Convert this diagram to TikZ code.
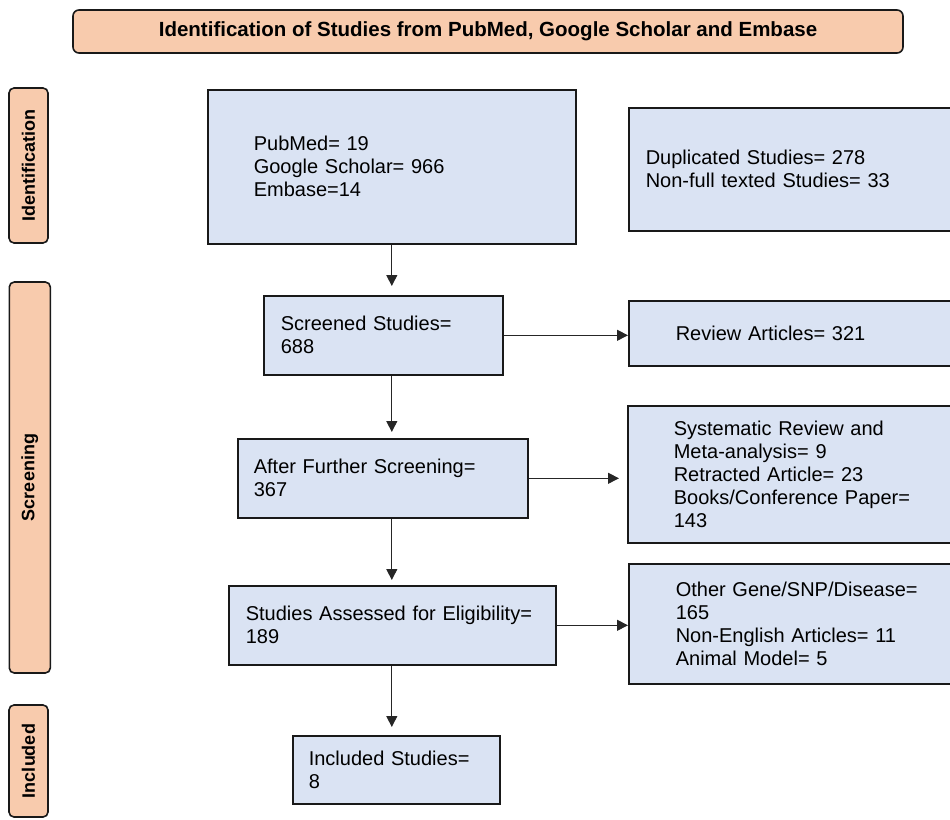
\documentclass[tikz,border=0pt]{standalone}
\usepackage{fontspec}
\setmainfont{Liberation Sans}
\usetikzlibrary{arrows.meta, positioning}
\definecolor{peach}{HTML}{F8CBAD}
\definecolor{paleblue}{HTML}{DAE3F3}

\begin{document}
\begin{tikzpicture}[x=1pt, y=-1pt,
    phase/.style={draw=black!90, line width=1.6pt, fill=peach, rounded corners=5pt,
      inner sep=0pt, font=\fontsize{18}{21}\selectfont\bfseries},
    stage/.style={draw=black!90, line width=1.6pt, fill=paleblue, anchor=north west,
      align=left, inner ysep=0pt, font=\fontsize{20}{23}\selectfont},
    flow/.style={-{Triangle[length=11pt,width=11pt]}, line width=0.9pt, black!85}]
    % Page frame
    \useasboundingbox (0,0) rectangle (950,819);
    \clip (0,0) rectangle (950,819);

    % Title bar
    \node[phase, minimum width=830pt, minimum height=43pt, rounded corners=6pt,
      font=\fontsize{20.5}{24}\selectfont\bfseries] (title) at (488,31.5)
      {Identification of Studies from PubMed, Google Scholar and Embase};

    % Phase labels on the left
    \node[phase, rotate=90, minimum width=155pt, minimum height=39pt] (identification) at (28.5,165.5) {Identification};
    \node[phase, rotate=90, minimum width=391pt, minimum height=41pt] (screening) at (29.8,477.5) {Screening};
    \node[phase, rotate=90, minimum width=112pt, minimum height=39pt] (included) at (28.5,761) {Included};

    % Main column
    \node[stage, text width=276pt, inner xsep=46pt, minimum height=154pt] (sources) at (207,89)
      {PubMed= 19\\Google Scholar= 966\\Embase=14};
    \node[stage, text width=205pt, inner xsep=17pt, minimum height=79pt] (screened) at (263,295)
      {Screened Studies=\\688};
    \node[stage, text width=258pt, inner xsep=16pt, minimum height=79pt] (further) at (237,438)
      {After Further Screening=\\367};
    \node[stage, text width=293pt, inner xsep=17pt, minimum height=79pt] (eligible) at (228,585)
      {Studies Assessed for Eligibility=\\189};
    \node[stage, text width=175pt, inner xsep=16pt, minimum height=68pt] (final) at (292,735)
      {Included Studies=\\8};

    % Exclusions on the right
    \node[stage, text width=338pt, inner xsep=17pt, minimum height=123pt] (duplicates) at (628,107)
      {Duplicated Studies= 278\\Non-full texted Studies= 33};
    \node[stage, text width=278pt, inner xsep=47pt, minimum height=65pt] (reviews) at (628,300)
      {Review Articles= 321};
    \node[stage, text width=281pt, inner xsep=46pt, minimum height=137pt] (removed) at (627,405)
      {Systematic Review and\\Meta-analysis= 9\\Retracted Article= 23\\Books/Conference Paper=\\143};
    \node[stage, text width=278pt, inner xsep=47pt, minimum height=120pt] (ineligible) at (628,563)
      {Other Gene/SNP/Disease=\\165\\Non-English Articles= 11\\Animal Model= 5};

    % Connectors
    \draw[flow, shorten >=9pt] (sources.south) -- (sources.south |- screened.north);
    \draw[flow, shorten >=6pt] (sources.south |- screened.south) -- (sources.south |- further.north);
    \draw[flow, shorten >=5pt] (sources.south |- further.south) -- (sources.south |- eligible.north);
    \draw[flow, shorten >=8pt] (sources.south |- eligible.south) -- (sources.south |- final.north);
    \draw[flow] (screened.east) -- (screened.east -| reviews.west);
    \draw[flow, shorten >=8pt] (further.east) -- (further.east -| removed.west);
    \draw[flow] (eligible.east) -- (eligible.east -| ineligible.west);
\end{tikzpicture}
\end{document}
